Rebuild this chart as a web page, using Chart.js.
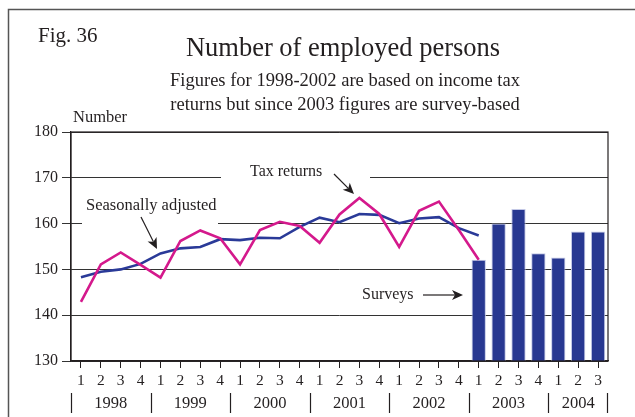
<!DOCTYPE html>
<html>
<head>
<meta charset="utf-8">
<script src="https://cdn.jsdelivr.net/npm/chart.js@4"></script>
<style>
  html, body { margin: 0; padding: 0; background: #fff; }
  #wrap { width: 635px; height: 417px; }
</style>
</head>
<body>
<div id="wrap"><canvas id="chart" width="635" height="417"></canvas></div>
<script>
// quarters 1998Q1 .. 2004Q3
const quarters = ['1','2','3','4','1','2','3','4','1','2','3','4','1','2','3','4','1','2','3','4','1','2','3','4','1','2','3'];
const years = ['1998', '1999', '2000', '2001', '2002', '2003', '2004'];

const taxReturns = [142.9, 151.1, 153.7, 151.0, 148.2, 156.2, 158.5, 156.8, 151.1, 158.6, 160.4, 159.5,
  155.8, 162.0, 165.6, 162.1, 154.9, 162.8, 164.8, 158.6, 152.1,
  null, null, null, null, null, null];
const seasonallyAdjusted = [148.3, 149.5, 150.0, 151.2, 153.5, 154.6, 154.9, 156.6, 156.4, 156.9, 156.8, 159.3,
  161.3, 160.3, 162.1, 161.9, 160.1, 161.1, 161.4, 159.0, 157.4,
  null, null, null, null, null, null];
const surveys = [null, null, null, null, null, null, null, null, null, null, null, null,
  null, null, null, null, null, null, null, null,
  152.1, 160.0, 163.2, 153.5, 152.6, 158.3, 158.3];

const yTicks = [130, 140, 150, 160, 170, 180];

const SERIF = '"Liberation Serif", "DejaVu Serif", serif';
const INK = '#231f20';

function arrow(ctx, x1, y1, x2, y2) {
  const a = Math.atan2(y2 - y1, x2 - x1);
  const len = 11, w = 5;
  const bx = x2 - len * Math.cos(a), by = y2 - len * Math.sin(a);
  ctx.beginPath();
  ctx.moveTo(x1, y1);
  ctx.lineTo(bx + 3 * Math.cos(a), by + 3 * Math.sin(a));
  ctx.stroke();
  ctx.beginPath();
  ctx.moveTo(x2, y2);
  ctx.lineTo(bx - w * Math.sin(a), by + w * Math.cos(a));
  ctx.lineTo(bx + 3 * Math.cos(a), by + 3 * Math.sin(a));
  ctx.lineTo(bx + w * Math.sin(a), by - w * Math.cos(a));
  ctx.closePath();
  ctx.fill();
}

const decor = {
  id: 'decor',
  beforeDatasetsDraw(chart) {
    const ctx = chart.ctx;
    ctx.save();
    ctx.fillStyle = '#fff';
    // label boxes hide the grid lines behind them
    ctx.fillRect(221, 166, 149, 15);
    ctx.fillRect(82, 196, 136, 31);
    ctx.restore();
  },
  afterDraw(chart) {
    const ctx = chart.ctx;
    const area = chart.chartArea;
    const x = chart.scales.x;
    ctx.save();

    // frame
    ctx.strokeStyle = '#555';
    ctx.lineWidth = 1.5;
    ctx.beginPath();
    ctx.moveTo(8.5, 417);
    ctx.lineTo(8.5, 9.5);
    ctx.lineTo(635, 9.5);
    ctx.stroke();

    // plot box
    ctx.strokeStyle = INK;
    ctx.lineWidth = 1.2;
    ctx.strokeRect(area.left, area.top, area.right - area.left, area.bottom - area.top);

    ctx.fillStyle = INK;
    ctx.textBaseline = 'middle';
    ctx.textAlign = 'left';
    ctx.font = '21px ' + SERIF;
    ctx.fillText('Fig. 36', 38, 36);
    ctx.textAlign = 'center';
    ctx.font = '26.5px ' + SERIF;
    ctx.fillText('Number of employed persons', 343, 49);
    ctx.font = '18.5px ' + SERIF;
    ctx.fillText('Figures for 1998-2002 are based on income tax', 345, 81);
    ctx.fillText('returns but since 2003 figures are survey-based', 345, 105);
    ctx.textAlign = 'left';
    ctx.font = '16.5px ' + SERIF;
    ctx.fillText('Number', 73, 118);

    // annotations
    ctx.font = '16px ' + SERIF;
    ctx.fillText('Tax returns', 250, 172);
    ctx.fillText('Surveys', 362, 295);
    ctx.font = '16.5px ' + SERIF;
    ctx.fillText('Seasonally adjusted', 86, 206);
    ctx.strokeStyle = INK;
    ctx.lineWidth = 1.2;
    arrow(ctx, 334, 174, 354, 194);
    arrow(ctx, 141, 217, 157, 249);
    arrow(ctx, 423, 295, 463, 295);

    // year row
    const step = x.getPixelForValue(1) - x.getPixelForValue(0);
    ctx.font = '16.5px ' + SERIF;
    ctx.textAlign = 'center';
    ctx.lineWidth = 1.2;
    let i = 0;
    years.forEach((yr) => {
      const n = Math.min(4, quarters.length - i);
      const left = x.getPixelForValue(i) - step / 2;
      const right = x.getPixelForValue(i + n - 1) + step / 2;
      ctx.fillText(yr, (left + right) / 2, 404);
      ctx.beginPath();
      ctx.moveTo(Math.round(left) + 0.5, 393);
      ctx.lineTo(Math.round(left) + 0.5, 413);
      ctx.stroke();
      if (i + n >= quarters.length) {
        ctx.beginPath();
        ctx.moveTo(Math.round(right) - 0.5, 393);
        ctx.lineTo(Math.round(right) - 0.5, 413);
        ctx.stroke();
      }
      i += n;
    });
    ctx.restore();
  }
};

new Chart(document.getElementById('chart'), {
  type: 'bar',
  data: {
    labels: quarters,
    datasets: [
      {
        type: 'line',
        label: 'Tax returns',
        data: taxReturns,
        borderColor: '#d4198c',
        borderWidth: 2.6,
        pointRadius: 0,
        tension: 0,
        spanGaps: false,
        order: 0
      },
      {
        type: 'line',
        label: 'Seasonally adjusted',
        data: seasonallyAdjusted,
        borderColor: '#2a3a98',
        borderWidth: 2.6,
        pointRadius: 0,
        tension: 0,
        order: 1
      },
      {
        type: 'bar',
        label: 'Surveys',
        data: surveys,
        backgroundColor: '#283891',
        borderColor: '#c3c8e6',
        borderWidth: 1,
        borderSkipped: false,
        barPercentage: 0.72,
        categoryPercentage: 1,
        order: 2
      }
    ]
  },
  options: {
    responsive: false,
    animation: false,
    layout: { padding: { left: 0, top: 132, right: 27, bottom: 0 } },
    plugins: {
      legend: { display: false },
      tooltip: { enabled: false },
      title: { display: false }
    },
    scales: {
      x: {
        offset: true,
        grid: { offset: false, drawOnChartArea: false, drawTicks: true, tickLength: 7, color: INK },
        border: { display: true, color: INK, width: 1.2 },
        ticks: { color: INK, font: { family: SERIF, size: 15.5 }, padding: 4, maxRotation: 0, autoSkip: false },
        afterFit: (s) => { s.height = 56; }
      },
      y: {
        min: 130,
        max: 180,
        afterBuildTicks: (s) => { s.ticks = yTicks.map((v) => ({ value: v })); },
        grid: { color: '#333', lineWidth: 1, tickLength: 9 },
        border: { display: true, color: INK, width: 1.2 },
        ticks: { color: INK, font: { family: SERIF, size: 16 }, padding: 4 },
        afterFit: (s) => { s.width = 71; }
      }
    }
  },
  plugins: [decor]
});
</script>
</body>
</html>
